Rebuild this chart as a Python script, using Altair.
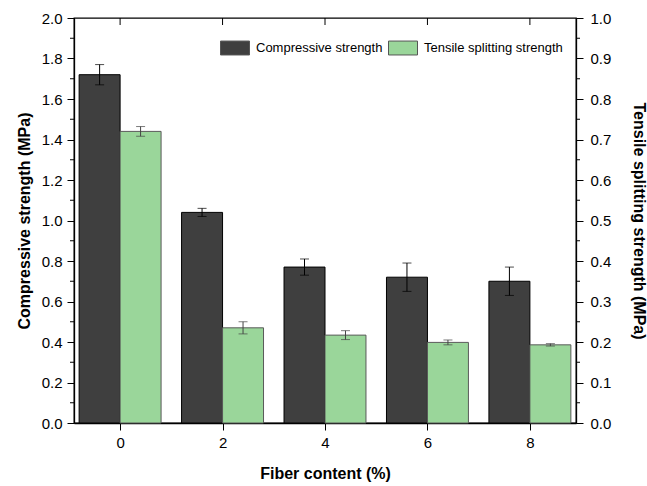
import altair as alt
import pandas as pd

fiber = [0, 2, 4, 6, 8]
comp = [1.72, 1.04, 0.77, 0.72, 0.70]
comp_err = [0.05, 0.02, 0.04, 0.07, 0.07]
tens = [0.72, 0.235, 0.217, 0.199, 0.193]
tens_err = [0.012, 0.015, 0.011, 0.006, 0.003]
series = ["Compressive strength", "Tensile splitting strength"]
left_minor = [0.1, 0.3, 0.5, 0.7, 0.9, 1.1, 1.3, 1.5, 1.7, 1.9]
right_minor = [0.05, 0.15, 0.25, 0.35, 0.45, 0.55, 0.65, 0.75, 0.85, 0.95]

W, H = 502, 405
FONT = "Liberation Sans"

df_c = pd.DataFrame({"fiber": fiber, "val": comp, "err": comp_err, "series": series[0]})
df_t = pd.DataFrame({"fiber": fiber, "val": tens, "err": tens_err, "series": series[1]})

xscale = alt.Scale(domain=[-0.9, 8.9], nice=False, zero=False)
yl = alt.Scale(domain=[0, 2.0], nice=False)
yr = alt.Scale(domain=[0, 1.0], nice=False)
color = alt.Scale(domain=series, range=["#3f3f3f", "#9ad69a"])

xaxis = alt.Axis(values=fiber, title="Fiber content (%)", format="d", grid=False,
                 tickSize=7, labelPadding=5, titlePadding=15)

left_axis = alt.Axis(orient="left", values=[0, 0.2, 0.4, 0.6, 0.8, 1.0, 1.2, 1.4, 1.6, 1.8, 2.0],
                     format=".1f", title="Compressive strength (MPa)", grid=False,
                     tickSize=7, labelPadding=5, titlePadding=9)
right_axis = alt.Axis(orient="right", values=[0, 0.1, 0.2, 0.3, 0.4, 0.5, 0.6, 0.7, 0.8, 0.9, 1.0],
                      format=".1f", title="Tensile splitting strength (MPa)", grid=False,
                      tickSize=7, labelPadding=7, titlePadding=20)

legend = alt.Legend(title=None, orient="none", direction="horizontal", legendX=146, legendY=15,
                    symbolType="M-1,-0.48H1V0.48H-1Z", symbolSize=841,
                    symbolStrokeColor="#555555", symbolStrokeWidth=1,
                    labelFont=FONT, labelFontSize=13, labelOffset=6, columnPadding=3,
                    labelColor="black")

base_c = alt.Chart(df_c)
bars_c = base_c.transform_calculate(x0="datum.fiber - 0.8", base="0").mark_bar(
    stroke="black", strokeWidth=1).encode(
    x=alt.X("x0:Q", scale=xscale, axis=xaxis),
    x2=alt.X2("fiber:Q"),
    y=alt.Y("val:Q", scale=yl, axis=left_axis),
    y2=alt.Y2("base:Q"),
    fill=alt.Fill("series:N", scale=color, legend=legend),
)
err_c_base = base_c.transform_calculate(
    xc="datum.fiber - 0.4", lo="datum.val - datum.err", hi="datum.val + datum.err")
err_c = err_c_base.mark_rule(color="black", strokeWidth=1).encode(
    x="xc:Q", y="lo:Q", y2="hi:Q")
cap_c_lo = err_c_base.mark_tick(color="black", orient="horizontal", size=9, thickness=1).encode(
    x="xc:Q", y="lo:Q")
cap_c_hi = err_c_base.mark_tick(color="black", orient="horizontal", size=9, thickness=1).encode(
    x="xc:Q", y="hi:Q")
minor_l = alt.Chart(pd.DataFrame({"v": left_minor})).mark_rule(color="black", strokeWidth=1).encode(
    x=alt.value(-4), x2=alt.value(0), y="v:Q")

left = alt.layer(bars_c, err_c, cap_c_lo, cap_c_hi, minor_l)

base_t = alt.Chart(df_t)
bars_t = base_t.transform_calculate(x1="datum.fiber + 0.8", base="0").mark_bar(
    stroke="#5a5a5a", strokeWidth=1).encode(
    x=alt.X("fiber:Q", scale=xscale),
    x2=alt.X2("x1:Q"),
    y=alt.Y("val:Q", scale=yr, axis=right_axis),
    y2=alt.Y2("base:Q"),
    fill=alt.Fill("series:N", scale=color, legend=legend),
)
err_t_base = base_t.transform_calculate(
    xc="datum.fiber + 0.4", lo="datum.val - datum.err", hi="datum.val + datum.err")
err_t = err_t_base.mark_rule(color="#444444", strokeWidth=1).encode(
    x="xc:Q", y="lo:Q", y2="hi:Q")
cap_t_lo = err_t_base.mark_tick(color="#444444", orient="horizontal", size=9, thickness=1).encode(
    x="xc:Q", y="lo:Q")
cap_t_hi = err_t_base.mark_tick(color="#444444", orient="horizontal", size=9, thickness=1).encode(
    x="xc:Q", y="hi:Q")
minor_r = alt.Chart(pd.DataFrame({"v": right_minor})).mark_rule(color="black", strokeWidth=1).encode(
    x=alt.value(W), x2=alt.value(W + 4), y="v:Q")
top_ticks = alt.Chart(pd.DataFrame({"f": fiber})).mark_rule(color="black", strokeWidth=1).encode(
    x=alt.X("f:Q", scale=xscale), y=alt.value(0), y2=alt.value(7))

right = alt.layer(bars_t, err_t, cap_t_lo, cap_t_hi, minor_r, top_ticks)

chart = alt.layer(left, right).resolve_scale(y="independent").properties(
    width=W, height=H,
    background="white",
    autosize=alt.AutoSizeParams(type="none"),
    padding={"left": 74, "top": 18, "right": 71, "bottom": 63},
).configure_view(stroke="black", strokeWidth=1.3).configure_axis(
    labelFont=FONT, labelFontSize=15, labelColor="black",
    titleFont=FONT, titleFontSize=16, titleFontWeight="bold", titleColor="black",
    domainColor="black", domainWidth=1.3, tickColor="black", tickWidth=1,
)

chart.save("out.html", embed_options={"renderer": "svg", "actions": False})
